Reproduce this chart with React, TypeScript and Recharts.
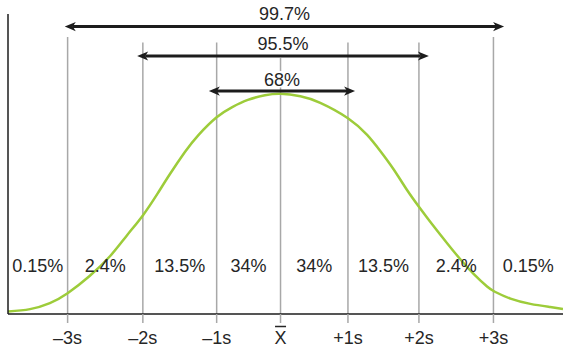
import { ComposedChart, Line, XAxis, YAxis, ReferenceLine, ReferenceDot } from 'recharts'

// curve (x in s-units, y as % of plot height)
const curveX = [-3.84, -3.53, -3.25, -3.0, -2.69, -2.4, -2.17, -1.94, -1.74, -1.56, -1.35, -1.16, -0.9, -0.68, -0.46, -0.22, 0, 0.28, 0.56, 0.95, 1.22, 1.4, 1.59, 1.78, 1.95, 2.15, 2.35, 2.53, 2.72, 2.91, 3.02, 3.24, 3.52, 3.8, 3.98]
const curveY = [0.83, 1.63, 3.63, 6.93, 12.67, 19.33, 26.03, 32.87, 39.87, 46.58, 53.93, 59.57, 65.58, 68.98, 71.38, 72.9, 73.4, 72.6, 70.4, 65.27, 59.7, 54.5, 48.33, 41.43, 35.77, 29.5, 23.53, 18.33, 13.35, 9.15, 7.42, 5.12, 3.38, 2.32, 1.67]

const guideX = [-3, -1.94, -0.9, 0, 0.95, 1.95, 3]
const guideTop = [92.3, 90.5, 90.5, 75.5, 90.5, 90.5, 92.3]
const tickLabels = ['–3s', '–2s', '–1s', 'X', '+1s', '+2s', '+3s']

const bandLabels = ['0.15%', '2.4%', '13.5%', '34%', '34%', '13.5%', '2.4%', '0.15%']

const spanLabels = ['99.7%', '95.5%', '68%']
const spanFrom = [-3.04, -2.02, -1.01]
const spanTo = [3.15, 2.09, 1.05]
const spanLevel = [95.8, 86, 74.3]
const spanGap = [7, 6.5, 5]

const X_MIN = -3.84
const X_MAX = 3.98

const FONT = '"Liberation Sans", Arial, Helvetica, sans-serif'
const FS = 18
const INK = '#1c1c1c'
const TEXT = '#262626'
const GRID = '#a8a8a8'

const data = curveX.map((x, i) => ({ x, y: curveY[i] }))
const bounds = [X_MIN, ...guideX, X_MAX]
const bandMid = bandLabels.map((_, i) => (bounds[i] + bounds[i + 1]) / 2)

function Arrow(p: any) {
  const { x1, y1, x2 } = p
  const left = Math.min(x1, x2)
  const right = Math.max(x1, x2)
  const y = y1
  const L = 11, W = 4.6, N = 8
  return (
    <g>
      <line x1={left + N} y1={y} x2={right - N} y2={y} stroke={INK} strokeWidth={3} />
      <path d={`M${left},${y} L${left + L},${y - W} L${left + N},${y} L${left + L},${y + W} Z`} fill={INK} />
      <path d={`M${right},${y} L${right - L},${y - W} L${right - N},${y} L${right - L},${y + W} Z`} fill={INK} />
    </g>
  )
}

function AxisTick({ x, y, payload }: any) {
  const label = tickLabels[guideX.indexOf(payload.value)]
  const isMean = label === 'X'
  return (
    <g>
      <text x={x} y={y} dy="0.71em" textAnchor="middle" fontSize={FS} fontFamily={FONT} fill={TEXT}>
        {label}
      </text>
      {isMean && <line x1={x - 5.5} x2={x + 5.5} y1={y - 4.5} y2={y - 4.5} stroke={TEXT} strokeWidth={1.5} />}
    </g>
  )
}

export default function App() {
  return (
    <div style={{ position: 'absolute', left: 0, top: 0, width: 574, height: 358, background: '#fff' }}>
      <ComposedChart width={574} height={358} data={data}
        margin={{ top: 14, right: 11, bottom: 0, left: 0 }}>
        <XAxis dataKey="x" type="number" domain={[X_MIN, X_MAX]} allowDataOverflow
          ticks={guideX} interval={0} height={44}
          tickSize={9} tickMargin={8}
          axisLine={{ stroke: INK, strokeWidth: 1.5 }}
          tickLine={{ stroke: GRID, strokeWidth: 1.5 }}
          tick={<AxisTick />} />
        <YAxis type="number" domain={[0, 100]} allowDataOverflow width={8}
          tick={false} tickLine={false}
          axisLine={{ stroke: INK, strokeWidth: 1.5 }} />

        {guideX.map((gx, i) => (
          <ReferenceLine key={'g' + i} segment={[{ x: gx, y: 0 }, { x: gx, y: guideTop[i] }]}
            stroke={GRID} strokeWidth={1.5} />
        ))}
        <ReferenceLine segment={[{ x: 0, y: 81 }, { x: 0, y: 85.3 }]} stroke={GRID} strokeWidth={1.5} />

        <Line dataKey="y" type="natural" stroke="#9dcc3a" strokeWidth={2.5}
          dot={false} activeDot={false} isAnimationActive={false} />

        {bandLabels.map((t, i) => (
          <ReferenceDot key={'b' + i} x={bandMid[i]} y={16} r={0} fill="none" stroke="none"
            label={{ value: t, position: 'center', fontSize: FS, fontFamily: FONT, fill: TEXT }} />
        ))}

        {spanLabels.map((t, i) => (
          <ReferenceLine key={'s' + i}
            segment={[{ x: spanFrom[i], y: spanLevel[i] }, { x: spanTo[i], y: spanLevel[i] }]}
            shape={Arrow}
            label={{ value: t, position: 'top', offset: spanGap[i], fontSize: FS, fontFamily: FONT, fill: TEXT }} />
        ))}
      </ComposedChart>
    </div>
  )
}
